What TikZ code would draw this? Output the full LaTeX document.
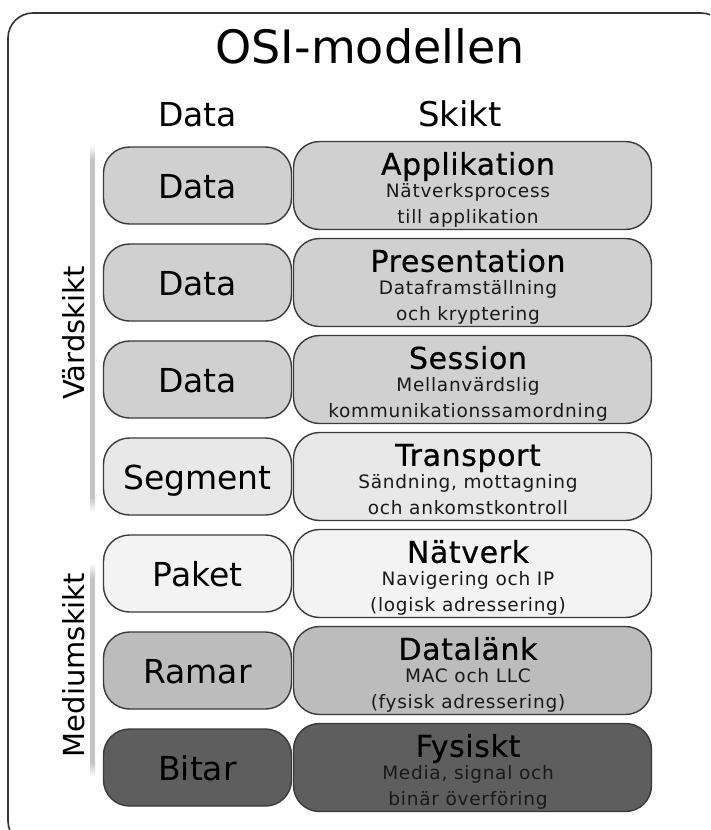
\documentclass[tikz,border=0pt]{standalone}
\usepackage{fontspec}
\setmainfont{DejaVu Sans}
\newfontfamily\subfont[LetterSpace=4]{DejaVu Sans}
\newfontfamily\headfont[LetterSpace=2, FakeBold=0.6]{DejaVu Sans}
\usetikzlibrary{calc}
\definecolor{edge}{HTML}{3A3A3A}
\definecolor{upper}{HTML}{D0D0D0}
\definecolor{transp}{HTML}{E8E8E8}
\definecolor{netw}{HTML}{F3F3F3}
\definecolor{link}{HTML}{BCBCBC}
\definecolor{phys}{HTML}{5E5E5E}
\definecolor{barcol}{HTML}{C4C4C4}
\newcommand{\px}[1]{\fontsize{#1}{#1}\selectfont}
\tikzset{
  unitbox/.style={draw=edge, line width=1.4pt, rounded corners=26pt, inner sep=0pt},
  pdubox/.style={unitbox, minimum width=188pt, minimum height=77pt},
  layerbox/.style={unitbox, minimum width=358pt, minimum height=88pt},
  pdutext/.style={font=\px{33}, anchor=base, inner sep=0pt},
  layertitle/.style={font=\headfont\px{30}, anchor=base, inner sep=0pt},
  layersub/.style={font=\subfont\px{18.5}, anchor=base, inner sep=0pt, text=black!90},
  sidelabel/.style={font=\px{29}, rotate=90, inner sep=0pt},
}
\begin{document}
\begin{tikzpicture}[x=1pt, y=-1pt]
\useasboundingbox (0,0) rectangle (710,830);
\fill[white] (0,0) rectangle (710,830);

% outer frame, running past the right and bottom edges
\begin{scope}
  \clip (0,0) rectangle (710,830);
  \draw[black!80, line width=1.6pt, rounded corners=25pt] (8,13) rectangle (726,846);
\end{scope}

% headings
\node[font=\px{46}, anchor=base, inner sep=0pt] (title) at (370,63) {OSI-modellen};
\node[font=\px{33}, anchor=base, inner sep=0pt] (hdata) at (197.5,126) {Data};
\node[font=\px{34}, anchor=base, inner sep=0pt] (hlayer) at (460,126) {Skikt};

% side bars grouping the host and media layers
\foreach \name/\top/\bot in {hostbar/145/512, mediabar/563/777} {
  \fill[barcol] (90,\top+14) rectangle (95,\bot-14);
  \shade[top color=white, bottom color=barcol] (90,\top) rectangle (95,\top+14.5);
  \shade[top color=barcol, bottom color=white] (90,\bot-14.5) rectangle (95,\bot);
}
\node[sidelabel] (host) at (74,333) {Värdskikt};
\node[sidelabel] (media) at (74,665) {Mediumskikt};

% the seven layers: data unit on the left, layer on the right
\foreach \i/\yc/\col/\pdu/\lname/\lineA/\lineB in {
  1/185.5/upper/Data/Applikation/Nätverksprocess/till applikation,
  2/282.5/upper/Data/Presentation/Dataframställning/och kryptering,
  3/379.5/upper/Data/Session/Mellanvärdslig/kommunikationssamordning,
  4/476.5/transp/Segment/Transport/{Sändning, mottagning}/och ankomstkontroll,
  5/573.5/netw/Paket/Nätverk/Navigering och IP/(logisk adressering),
  6/670.5/link/Ramar/Datalänk/MAC och LLC/(fysisk adressering),
  7/767.5/phys/Bitar/Fysiskt/{Media, signal och}/binär överföring} {
  \node[layerbox, fill=\col] (l\i) at (472.5,\yc) {};
  \node[pdubox, fill=\col] (p\i) at (197.5,\yc) {};
  \node[pdutext] (pt\i) at ($(p\i.center)+(0,12.5)$) {\pdu};
  \node[layertitle] (lt\i) at ($(l\i.north)+(-4.5,34)$) {\lname};
  \node[layersub] (la\i) at ($(l\i.north)+(-4.5,57)$) {\lineA};
  \node[layersub] (lb\i) at ($(l\i.north)+(-4.5,83)$) {\lineB};
}
\end{tikzpicture}
\end{document}
